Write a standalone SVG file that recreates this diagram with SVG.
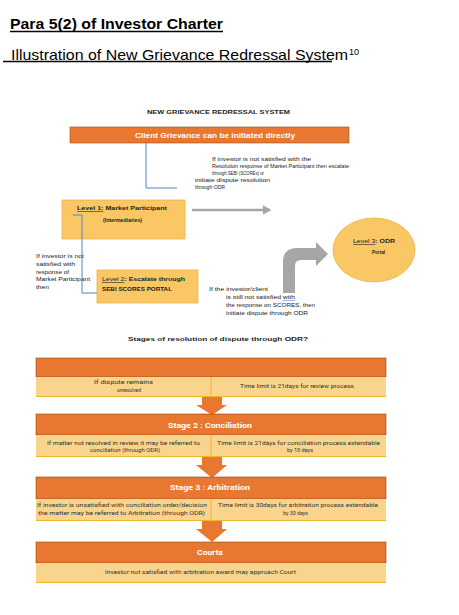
<svg xmlns="http://www.w3.org/2000/svg" width="459" height="615" viewBox="0 0 459 615">
<style>
.t{font-family:"Liberation Sans",Arial,sans-serif;fill:#000}
.s{font-family:"Liberation Sans",Arial,sans-serif;font-size:5px;fill:#222}
.lb{font-family:"Liberation Sans",Arial,sans-serif;font-size:6px;fill:#222;font-weight:bold}
.r{font-family:Roboto,"Liberation Sans",sans-serif;font-size:5.2px;fill:#333}
.h{font-family:Roboto,"Liberation Sans",sans-serif;font-size:7.5px;fill:#fff;font-weight:bold}
.hdr{fill:#E8772F;stroke:#8E4518;stroke-width:0.6}
.row{fill:#F9D48C}
.rowb{stroke:#F1B42F;stroke-width:1}
.box{fill:#F9C764;stroke:#EDB14B;stroke-width:0.8}
.blue{fill:none;stroke:#4F86C6;stroke-width:1}
.arr{fill:#E8772F}
</style>
<defs>
<marker id="ga" markerWidth="4" markerHeight="4" refX="3" refY="2" orient="auto" markerUnits="strokeWidth">
<path d="M0,0 L3.5,2 L0,4 Z" fill="#A6A6A6"/>
</marker>
</defs>

<g id="title">
<text class="t" x="10" y="29" font-size="14" font-weight="bold" textLength="213" lengthAdjust="spacingAndGlyphs">Para 5(2) of Investor Charter</text>
<line x1="10" y1="31.5" x2="223" y2="31.5" stroke="#000" stroke-width="1.3"/>
<text class="t" x="11" y="60" font-size="14.5" textLength="337" lengthAdjust="spacingAndGlyphs">Illustration of New Grievance Redressal System</text>
<text class="t" x="349" y="55" font-size="9">10</text>
<line x1="3" y1="61.5" x2="332" y2="61.5" stroke="#000" stroke-width="1.3"/>
</g>

<g id="diagram-title">
<text class="lb" x="147" y="114" font-size="6.3" textLength="143" lengthAdjust="spacingAndGlyphs">NEW GRIEVANCE REDRESSAL SYSTEM</text>
</g>

<g id="client-grievance">
<rect x="70" y="127" width="279" height="16" fill="#E8772F" stroke="#A04E1C" stroke-width="0.6"/>
<text class="h" x="135" y="138" font-size="7.5" textLength="160" lengthAdjust="spacingAndGlyphs" style="font-family:'Liberation Sans',Arial,sans-serif">Client Grievance can be initiated directly</text>
</g>

<g id="note-escalate">
<text class="s" x="212" y="161" textLength="99" lengthAdjust="spacingAndGlyphs">If investor is not satisfied with the</text>
<text class="s" x="212" y="168" textLength="137" lengthAdjust="spacingAndGlyphs">Resolution response of Market Participant then escalate</text>
<text class="s" x="212" y="175" textLength="52" lengthAdjust="spacingAndGlyphs">through SEBI (SCOREs) or</text>
<text class="s" x="195" y="182" textLength="75" lengthAdjust="spacingAndGlyphs">initiate dispute resolution</text>
<text class="s" x="195" y="189" textLength="30" lengthAdjust="spacingAndGlyphs">through ODR</text>
</g>

<g id="level1">
<rect class="box" x="62" y="200" width="123" height="39"/>
<text class="lb" x="77" y="210" textLength="90" lengthAdjust="spacingAndGlyphs"><tspan text-decoration="underline">Level 1:</tspan> Market Participant</text>
<text class="lb" x="103" y="222" textLength="39" lengthAdjust="spacingAndGlyphs">(Intermediaries)</text>
</g>

<g id="note-left">
<text class="s" x="36" y="258" textLength="48" lengthAdjust="spacingAndGlyphs">If investor is not</text>
<text class="s" x="36" y="266" textLength="39" lengthAdjust="spacingAndGlyphs">satisfied with</text>
<text class="s" x="36" y="273.5" textLength="33" lengthAdjust="spacingAndGlyphs">response of</text>
<text class="s" x="36" y="281" textLength="54" lengthAdjust="spacingAndGlyphs">Market Participant</text>
<text class="s" x="36" y="289" textLength="13" lengthAdjust="spacingAndGlyphs">then</text>
</g>

<g id="level2">
<rect class="box" x="97" y="270" width="101" height="33"/>
<text class="lb" x="102" y="281" textLength="83" lengthAdjust="spacingAndGlyphs"><tspan text-decoration="underline" font-weight="normal">Level 2</tspan>: Escalate through</text>
<text class="lb" x="102" y="291" textLength="70" lengthAdjust="spacingAndGlyphs">SEBI SCORES PORTAL</text>
</g>

<g id="level3">
<ellipse cx="374" cy="250" rx="41" ry="32" fill="#F9C764" stroke="#EDB14B" stroke-width="0.8"/>
<text class="lb" x="353" y="243" textLength="42" lengthAdjust="spacingAndGlyphs"><tspan text-decoration="underline" font-weight="normal">Level 3</tspan>: ODR</text>
<text class="lb" x="372" y="254" textLength="13" lengthAdjust="spacingAndGlyphs">Portal</text>
</g>

<g id="note-odr">
<text class="s" x="209" y="291" textLength="59" lengthAdjust="spacingAndGlyphs">If the investor/client</text>
<text class="s" x="226" y="299" textLength="69" lengthAdjust="spacingAndGlyphs">is still not satisfied with</text>
<line x1="283" y1="300.5" x2="295" y2="300.5" stroke="#4F86C6" stroke-width="0.6"/>
<text class="s" x="226" y="307" textLength="89" lengthAdjust="spacingAndGlyphs">the response on SCORES, then</text>
<text class="s" x="226" y="315" textLength="82" lengthAdjust="spacingAndGlyphs">initiate dispute through ODR</text>
</g>

<g id="connectors">
<polyline class="blue" points="146,143 146,188 177,188"/>
<polyline class="blue" points="73,215 82,215 82,293 97,293"/>
<line x1="192" y1="210" x2="270" y2="210" stroke="#A6A6A6" stroke-width="2.5" marker-end="url(#ga)"/>
<path d="M283,293 L283,262 Q283,248 297,248 L316,248 L316,242 L328,254 L316,266 L316,260 L301,260 Q295,260 295,266 L295,293 Z" fill="#A6A6A6"/>
<path class="arr" d="M202,397 L222,397 L222,405 L227,405 L212,415 L196,405 L202,405 Z"/>
<path class="arr" d="M202,457 L222,457 L222,465 L227,465 L212,478 L196,465 L202,465 Z"/>
<path class="arr" d="M202,521 L222,521 L222,529 L227,529 L212,542 L196,529 L202,529 Z"/>
</g>

<g id="stages-title">
<text class="lb" x="128" y="341" font-size="8" textLength="180" lengthAdjust="spacingAndGlyphs">Stages of resolution of dispute through ODR?</text>
</g>

<g id="stage1">
<rect class="hdr" x="36" y="358" width="350" height="19"/>
<rect class="row" x="36" y="377" width="350" height="20"/>
<line class="rowb" x1="36" y1="396.5" x2="386" y2="396.5"/>
<line class="rowb" x1="211" y1="377" x2="211" y2="397"/>
<text class="r" x="94" y="384" textLength="59" lengthAdjust="spacingAndGlyphs">If dispute remains</text>
<text class="r" x="117" y="392" textLength="24" lengthAdjust="spacingAndGlyphs">unresolved</text>
<text class="r" x="240" y="388" textLength="114" lengthAdjust="spacingAndGlyphs">Time limit is 21days for review process</text>
</g>

<g id="stage2">
<rect class="hdr" x="36" y="414" width="350" height="21"/>
<text class="h" x="168" y="428" textLength="84" lengthAdjust="spacingAndGlyphs">Stage 2 : Conciliation</text>
<rect class="row" x="36" y="435" width="350" height="22"/>
<line class="rowb" x1="36" y1="456.5" x2="386" y2="456.5"/>
<line class="rowb" x1="211" y1="435" x2="211" y2="457"/>
<text class="r" x="47" y="444.5" textLength="153" lengthAdjust="spacingAndGlyphs">If matter not resolved in review it may be referred to</text>
<text class="r" x="90" y="452" textLength="70" lengthAdjust="spacingAndGlyphs">conciliation (through ODR)</text>
<text class="r" x="217" y="444.5" textLength="163" lengthAdjust="spacingAndGlyphs">Time limit is 21days for conciliation process extendable</text>
<text class="r" x="287" y="452" textLength="26" lengthAdjust="spacingAndGlyphs">by 10 days</text>
</g>

<g id="stage3">
<rect class="hdr" x="36" y="477" width="350" height="22"/>
<text class="h" x="170" y="490" textLength="80" lengthAdjust="spacingAndGlyphs">Stage 3 : Arbitration</text>
<rect class="row" x="36" y="499" width="350" height="22"/>
<line class="rowb" x1="36" y1="520.5" x2="386" y2="520.5"/>
<line class="rowb" x1="211" y1="499" x2="211" y2="521"/>
<text class="r" x="37" y="507" textLength="170" lengthAdjust="spacingAndGlyphs">If investor is unsatisfied with conciliation order/decision</text>
<text class="r" x="38" y="515" textLength="167" lengthAdjust="spacingAndGlyphs">the matter may be referred to Arbitration (through ODR)</text>
<text class="r" x="218" y="507" textLength="160" lengthAdjust="spacingAndGlyphs">Time limit is 30days for arbitration process extendable</text>
<text class="r" x="283" y="515" textLength="25" lengthAdjust="spacingAndGlyphs">by 30 days</text>
</g>

<g id="courts">
<rect class="hdr" x="36" y="542" width="350" height="21"/>
<text class="h" x="197" y="555" textLength="26" lengthAdjust="spacingAndGlyphs">Courts</text>
<rect class="row" x="36" y="563" width="350" height="20"/>
<line class="rowb" x1="36" y1="582.5" x2="386" y2="582.5"/>
<text class="r" x="105" y="574" textLength="191" lengthAdjust="spacingAndGlyphs">Investor not satisfied with arbitration award may approach Court</text>
</g>
</svg>
